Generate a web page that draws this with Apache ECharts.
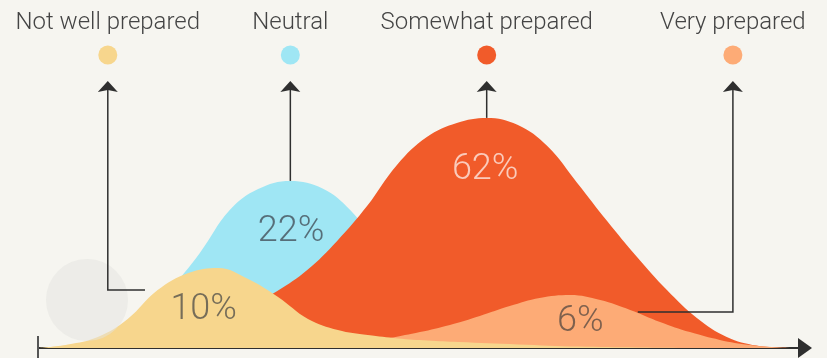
<!DOCTYPE html>
<html>
<head>
<meta charset="utf-8">
<script src="https://cdn.jsdelivr.net/npm/echarts@6/dist/echarts.min.js"></script>
<style>
  html, body { margin: 0; padding: 0; background: #f6f5f0; }
  #chart { width: 827px; height: 358px; }
</style>
</head>
<body>
<div id="chart"></div>
<script>
// Preparedness groups and their shares
const categories = ['Not well prepared', 'Neutral', 'Somewhat prepared', 'Very prepared'];
const shares = [10, 22, 62, 6];

// Distribution curves: [position along the scale, curve height]
const notWellCurve = [
  [0, 0], [3.9, 1.2], [7.8, 3.7], [11.7, 9.7], [15.6, 19.3], [19.6, 25], [23.5, 26.7],
  [27.4, 23], [31.3, 17], [35.2, 9.7], [39.1, 6], [43.0, 4.3], [46.9, 3.2], [50.8, 2.5],
  [54.8, 2], [62.6, 1.2], [70.4, 0.5], [78.2, 0.2], [86.3, 0]
];
const neutralCurve = [
  [1.6, 0], [5.5, 0.7], [9.4, 2.7], [13.3, 8], [17.2, 19.3], [21.1, 31.7], [25.0, 46],
  [28.7, 53.0], [32.9, 55.7], [37.1, 53.2], [40.7, 46], [44.6, 33.3], [48.5, 20],
  [52.4, 9.3], [56.3, 2.7], [60.2, 0.3], [62.8, 0]
];
const somewhatCurve = [
  [3.8, 0], [7.7, 0.2], [11.6, 0.8], [15.5, 2.3], [19.4, 5], [23.3, 8.7], [27.2, 13.3],
  [31.2, 19], [35.1, 26], [39.0, 35.7], [42.9, 47.3], [46.8, 61], [50.7, 70.3],
  [54.6, 75.0], [58.5, 76.7], [62.5, 74.4], [66.4, 67.3], [70.3, 55], [74.2, 42.3],
  [78.1, 30.3], [82.0, 19.3], [85.9, 10], [89.8, 3.7], [93.7, 0.8], [97.7, 0]
];
const veryCurve = [
  [34.2, 0], [38.1, 0.5], [42.0, 1.3], [45.9, 3.3], [49.8, 5.3], [53.7, 7.7], [57.6, 10.7],
  [61.5, 14], [65.4, 16.7], [69.4, 17.7], [73.3, 16], [77.2, 12.7], [81.1, 8.7],
  [85.0, 5.3], [88.9, 2.7], [92.8, 1], [96.7, 0.2], [99.3, 0]
];
const curves = [notWellCurve, neutralCurve, somewhatCurve, veryCurve];

// Where each share label sits, in chart units
const shareLabelAt = [[21.6, 13.3], [33.0, 39.3], [58.3, 60], [70.7, 9.3]];
// Leader lines: column under each legend dot, and where the line ends on the curve
const leaderColumn = [9.1, 32.9, 58.5, 90.6];
const leaderEnd = [[13.95, 19.3], [32.9, 55.7], [58.5, 76.7], [78.2, 12]];

const colors = ['#f7d68d', '#9fe6f4', '#f15b2a', '#fdab76'];
const shareTextColors = ['#55524b', '#43505a', 'rgba(255,255,255,0.85)', '#5e4e44'];
const ink = '#2f2f2f';
const font = '"Roboto Light", Roboto, "Noto Sans", sans-serif';

// back-to-front drawing order
const drawOrder = [1, 2, 3, 0];

const chart = echarts.init(document.getElementById('chart'), null, { renderer: 'canvas' });

const series = drawOrder.map((i, k) => ({
  name: categories[i],
  type: 'line',
  data: curves[i],
  smooth: 0.4,
  symbol: 'none',
  lineStyle: { width: 0 },
  areaStyle: { color: colors[i], opacity: 1 },
  z: 2 + k,
  silent: true
}));

series.push({
  name: 'shares',
  type: 'scatter',
  symbolSize: 0,
  z: 20,
  silent: true,
  data: shares.map((v, i) => ({
    value: shareLabelAt[i],
    label: {
      show: true,
      position: 'inside',
      formatter: v + '%',
      color: shareTextColors[i],
      fontFamily: font,
      fontWeight: 300,
      fontSize: 36
    }
  }))
});

chart.setOption({
  backgroundColor: '#f6f5f0',
  animation: false,
  grid: { left: 38, right: 22, top: 48, bottom: 10 },
  xAxis: {
    type: 'value', min: 0, max: 100,
    axisLine: {
      show: true,
      lineStyle: { color: ink, width: 2 },
      symbol: ['none', 'triangle'],
      symbolSize: [20, 14],
      symbolOffset: [0, 0]
    },
    axisTick: { show: false },
    axisLabel: { show: false },
    splitLine: { show: false }
  },
  yAxis: {
    type: 'value', min: 0, max: 100, show: false,
    splitLine: { show: false }
  },
  series: series
});

// Legend row, dots and leader arrows
const toPx = (pt) => chart.convertToPixel({ gridIndex: 0 }, pt);
const graphics = [];
const base = toPx([0, 0]);
// start tick of the axis
graphics.push({
  type: 'line', z: 30, silent: true,
  shape: { x1: base[0], y1: base[1] - 12, x2: base[0], y2: base[1] + 10 },
  style: { stroke: '#555', lineWidth: 2 }
});
// soft grey disc near the origin
graphics.push({
  type: 'circle', z: 25, silent: true,
  shape: { cx: 87, cy: 300, r: 41 },
  style: { fill: 'rgba(228,227,223,0.5)' }
});

categories.forEach((name, i) => {
  const colX = toPx([leaderColumn[i], 0])[0];
  const end = toPx(leaderEnd[i]);
  graphics.push({
    type: 'text', z: 30, silent: true,
    x: colX, y: 22,
    style: {
      text: name, fill: '#444', font: '300 24px ' + font,
      textAlign: 'center', textVerticalAlign: 'middle'
    }
  });
  graphics.push({
    type: 'circle', z: 30, silent: true,
    shape: { cx: colX, cy: 55, r: 9.5 },
    style: { fill: colors[i] }
  });
  graphics.push({
    type: 'polygon', z: 30, silent: true,
    shape: { points: [[colX, 81], [colX + 10, 92], [colX, 90], [colX - 10, 92]] },
    style: { fill: ink }
  });
  const pts = [[colX, 90], [colX, end[1]]];
  if (Math.abs(end[0] - colX) > 1) pts.push([end[0], end[1]]);
  graphics.push({
    type: 'polyline', z: 30, silent: true,
    shape: { points: pts },
    style: { stroke: ink, lineWidth: 1.5, fill: null }
  });
});

chart.setOption({ graphic: graphics });
</script>
</body>
</html>
